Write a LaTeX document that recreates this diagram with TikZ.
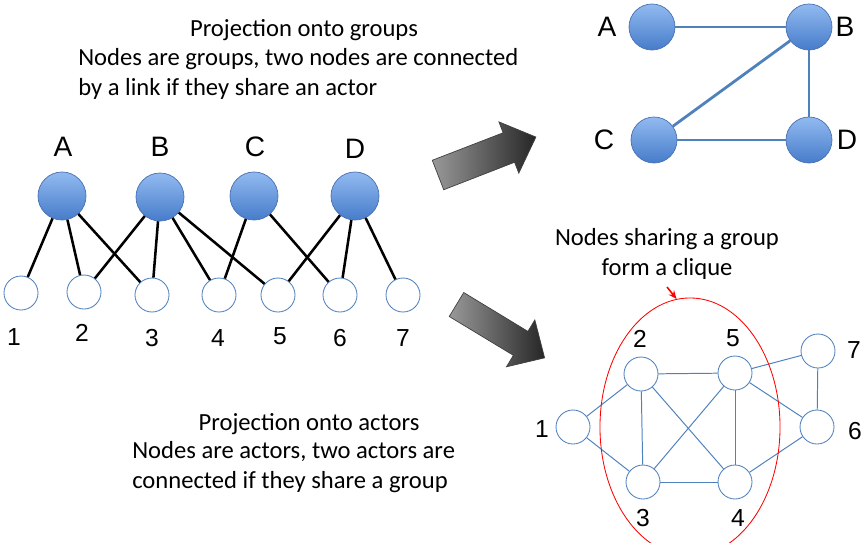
\documentclass[tikz,border=0pt]{standalone}
\usepackage{fontspec}
\setmainfont{Carlito}
\newfontfamily\labelfont{Liberation Sans}
\usetikzlibrary{shapes.geometric,arrows.meta}

\definecolor{grouptop}{RGB}{146,186,240}
\definecolor{groupbot}{RGB}{70,124,202}
\definecolor{groupline}{RGB}{72,112,178}
\definecolor{linkblue}{RGB}{79,129,189}

\begin{document}
\begin{tikzpicture}[x=0.025cm,y=-0.025cm,
  group/.style={circle,draw=groupline,line width=0.5pt,top color=grouptop,bottom color=groupbot,minimum size=1.2cm,inner sep=0pt},
  actor/.style={circle,draw=linkblue,line width=0.6pt,fill=white,minimum size=0.85cm,inner sep=0pt},
  glabel/.style={font=\labelfont\fontsize{20}{24}\selectfont,inner sep=0pt},
  alabel/.style={font=\labelfont\fontsize{17.5}{20}\selectfont,inner sep=0pt},
  caption/.style={font=\fontsize{17.5}{21}\selectfont,inner sep=0pt},
  member/.style={black,line width=1.8pt},
  glink/.style={linkblue,line width=2pt},
  alink/.style={linkblue,line width=0.7pt},
  fatarrow/.style={draw=black!75,line width=0.5pt,left color=gray!80,right color=black!85}]
\useasboundingbox (0,0) rectangle (862,542);
\clip (0,0) rectangle (862,542);

% texts
\node[caption,anchor=base] (grptitle) at (304,36) {Projection onto groups};
\node[caption,anchor=base west,align=left] (grptext) at (78,95) {Nodes are groups, two nodes are connected\\by a link if they share an actor};
\node[caption,anchor=base] (acttitle) at (309,430) {Projection onto actors};
\node[caption,anchor=base west,align=left] (acttext) at (132,488) {Nodes are actors, two actors are\\connected if they share a group};
\node[caption,anchor=base,align=center] (cliquetext) at (667,275) {Nodes sharing a group\\form a clique};

% bipartite network
\node[group] (A) at (62,196) {};
\node[group] (B) at (160,197) {};
\node[group] (C) at (254,196) {};
\node[group] (D) at (355,196) {};
\node[glabel] (lA) at (63,147) {A};
\node[glabel] (lB) at (160,147) {B};
\node[glabel] (lC) at (255,147) {C};
\node[glabel] (lD) at (355,149) {D};

\node[actor] (a1) at (21,293) {};
\node[actor] (a2) at (84,292) {};
\node[actor] (a3) at (152,295) {};
\node[actor] (a4) at (219,295) {};
\node[actor] (a5) at (278,295) {};
\node[actor] (a6) at (340,295) {};
\node[actor] (a7) at (403,295) {};
\node[alabel] (l1) at (14,337) {1};
\node[alabel] (l2) at (82,333) {2};
\node[alabel] (l3) at (152,338) {3};
\node[alabel] (l4) at (218,338) {4};
\node[alabel] (l5) at (280,336) {5};
\node[alabel] (l6) at (340,338) {6};
\node[alabel] (l7) at (403,338) {7};

\foreach \g/\a in {A/a1,A/a2,A/a3,B/a2,B/a3,B/a4,B/a5,C/a4,C/a6,D/a5,D/a6,D/a7}
  \draw[member] (\g) -- (\a);

% projection onto groups
\node[group,minimum size=1.15cm] (pA) at (652,27) {};
\node[group,minimum size=1.15cm] (pB) at (809,27) {};
\node[group,minimum size=1.15cm] (pC) at (654,140) {};
\node[group,minimum size=1.15cm] (pD) at (809,140) {};
\node[glabel] (lpA) at (607,27) {A};
\node[glabel] (lpB) at (845,27) {B};
\node[glabel] (lpC) at (604,140) {C};
\node[glabel] (lpD) at (847,140) {D};
\foreach \u/\v in {pA/pB,pB/pC,pB/pD,pC/pD}
  \draw[glink] (\u) -- (\v);

% projection onto actors
\node[actor] (q1) at (573,427) {};
\node[actor] (q2) at (641,374) {};
\node[actor] (q3) at (643,482) {};
\node[actor] (q4) at (735,482) {};
\node[actor] (q5) at (735,373) {};
\node[actor] (q6) at (817,427) {};
\node[actor] (q7) at (818,351) {};
\node[alabel] (lq1) at (542,429) {1};
\node[alabel] (lq2) at (640,339) {2};
\node[alabel] (lq3) at (643,518) {3};
\node[alabel] (lq4) at (738,518) {4};
\node[alabel] (lq5) at (733,338) {5};
\node[alabel] (lq6) at (855,431) {6};
\node[alabel] (lq7) at (854,350) {7};
\foreach \u/\v in {q1/q2,q1/q3,q2/q5,q2/q3,q2/q4,q5/q3,q5/q4,q5/q7,q5/q6,q7/q6,q3/q4,q4/q6}
  \draw[alink] (\u) -- (\v);

% clique
\node[ellipse,draw=red,line width=0.6pt,minimum width=4.5cm,minimum height=6.45cm,inner sep=0pt] (clique) at (690,427) {};
\coordinate (pin) at (667,287);
\draw[red,line width=1.1pt,-{Stealth[length=6pt,width=5pt]}] (pin) -- (clique.96);

% big arrows
\begin{scope}[shift={(438,175)},rotate=21.2]
  \shade[fatarrow] (0,-15.8) -- (76,-15.8) -- (76,-27.5) -- (105,0) -- (76,27.5) -- (76,15.8) -- (0,15.8) -- cycle;
\end{scope}
\begin{scope}[shift={(456.5,304.5)},rotate=-31.2]
  \shade[fatarrow] (0,-14) -- (75,-14) -- (75,-27.4) -- (103,0) -- (75,27.4) -- (75,14) -- (0,14) -- cycle;
\end{scope}
\end{tikzpicture}
\end{document}
